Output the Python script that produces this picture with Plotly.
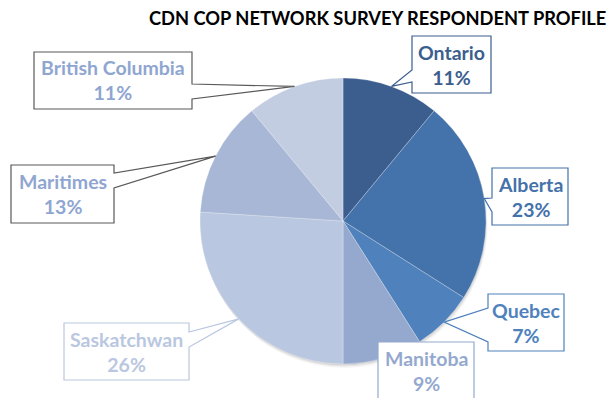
import math
import plotly.graph_objects as go

# Survey respondents by region (percent of respondents)
regions = ["Ontario", "Alberta", "Quebec", "Manitoba", "Saskatchwan", "Maritimes", "British Columbia"]
shares = [11, 23, 7, 9, 26, 13, 11]

slice_colors = ["#3B5E8F", "#4472AA", "#4F81BD", "#95A9CF", "#BAC7E0", "#A8B7D6", "#C3CDE2"]
text_colors = ["#3B5E8F", "#4472AA", "#4F81BD", "#95A9CF", "#BAC7E0", "#8FA6D1", "#8FA6D1"]
border_colors = ["#3B5E8F", "#4472AA", "#4F81BD", "#95A9CF", "#BAC7E0", "#595959", "#595959"]

W, H = 610, 398
FONT = "Lato"

# pie geometry in pixels
CX, CY, R = 343, 221, 143

# callout boxes: (x0, y0, x1, y1), side for the pointer, pointer base along that side
boxes = {
    "Ontario": ((412, 36, 491, 93), "left", (70, 82)),
    "Alberta": ((492, 168, 568, 225), "left", (198, 212)),
    "Quebec": ((488, 294, 564, 351), "left", (308, 342)),
    "Manitoba": ((378, 342, 474, 399), None, None),
    "Saskatchwan": ((64, 323, 189, 380), "right", (332, 347)),
    "Maritimes": ((11, 165, 114, 223), "right", (173, 188)),
    "British Columbia": ((34, 52, 192, 109), "right", (84, 99)),
}


def px(x):
    return x / W


def py(y):
    return 1 - y / H


fig = go.Figure()
fig.add_trace(go.Pie(
    labels=regions,
    values=shares,
    sort=False,
    direction="clockwise",
    rotation=0,
    textinfo="none",
    hoverinfo="label+percent",
    marker=dict(colors=slice_colors, line=dict(color="rgba(255,255,255,0.45)", width=0.6)),
    domain=dict(x=[px(CX - R), px(CX + R)], y=[py(CY + R), py(CY - R)]),
    showlegend=False,
))

shapes = []
# soft drop shadow under the pie
for off, alpha in [(4, 0.04), (2.5, 0.06), (1.2, 0.08)]:
    shapes.append(dict(type="circle", xref="paper", yref="paper", layer="below",
                       x0=px(CX - R + off * 0.4), x1=px(CX + R + off * 0.4),
                       y0=py(CY + R + off), y1=py(CY - R + off),
                       fillcolor=f"rgba(0,0,0,{alpha})", line=dict(width=0)))

total = sum(shares)
cum = 0
annotations = []
for name, val, tcol, bcol in zip(regions, shares, text_colors, border_colors):
    mid = (cum + val / 2) / total * 2 * math.pi
    cum += val
    tip = (CX + R * math.sin(mid), CY - R * math.cos(mid))
    (x0, y0, x1, y1), side, base = boxes[name]
    # outline of the callout, clockwise from top-left corner
    pts = [(x0, y0), (x1, y0)]
    if side == "right":
        pts += [(x1, base[0]), tip, (x1, base[1])]
    pts += [(x1, y1), (x0, y1)]
    if side == "left":
        pts += [(x0, base[1]), tip, (x0, base[0])]
    path = "M " + " L ".join(f"{px(a):.5f},{py(b):.5f}" for a, b in pts) + " Z"
    shapes.append(dict(type="path", xref="paper", yref="paper", path=path,
                       fillcolor="white", line=dict(color=bcol, width=1.2), layer="above"))
    annotations.append(dict(
        x=px((x0 + x1) / 2), y=py((y0 + y1) / 2), xref="paper", yref="paper",
        xanchor="center", yanchor="middle", showarrow=False,
        text=f"<b>{name}<br>{round(val / total * 100)}%</b>",
        font=dict(family=FONT, size=19.5, color=tcol), align="center",
    ))

annotations.append(dict(
    x=px(377), y=py(18), xref="paper", yref="paper", xanchor="center", yanchor="middle",
    showarrow=False, text="<b>CDN COP NETWORK SURVEY RESPONDENT PROFILE</b>",
    font=dict(family=FONT, size=18.3, color="#000000"),
))

fig.update_layout(
    width=W, height=H,
    margin=dict(l=0, r=0, t=0, b=0),
    paper_bgcolor="white", plot_bgcolor="white",
    shapes=shapes, annotations=annotations,
)

fig.write_html("out.html")
